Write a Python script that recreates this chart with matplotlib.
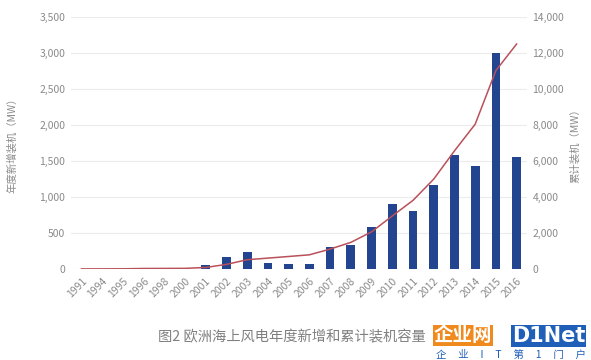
import matplotlib
matplotlib.use('Agg')
import matplotlib.pyplot as plt
import numpy as np

plt.rcParams['font.family'] = ['Noto Sans CJK SC', 'DejaVu Sans']

years = ['1991', '1994', '1995', '1996', '1998', '2000', '2001', '2002', '2003',
         '2004', '2005', '2006', '2007', '2008', '2009', '2010', '2011', '2012',
         '2013', '2014', '2015', '2016']
annual = [5, 0, 5, 17, 3, 4, 51, 160, 240, 90, 70, 75, 300, 330, 590, 900,
          800, 1160, 1580, 1430, 3000, 1550]
cumulative = [5, 7, 11, 29, 32, 36, 86, 256, 515, 605, 695, 788, 1106, 1479,
              2063, 2946, 3813, 4995, 6562, 8045, 11027, 12500]

left_ticks = [0, 500, 1000, 1500, 2000, 2500, 3000, 3500]
right_ticks = [0, 2000, 4000, 6000, 8000, 10000, 12000, 14000]

bar_color = '#23448e'
line_color = '#b9505a'
txt_color = '#8a8a8a'

fig = plt.figure(figsize=(5.91, 3.60), dpi=100)
ax = fig.add_axes([71/591, 91/360, (527-71)/591, 252/360])
x = np.arange(len(years))

ax.bar(x, annual, width=0.42, color=bar_color, zorder=2)
ax.set_ylim(0, 3500)
ax.set_xlim(-0.5, len(years) - 0.5)
ax.set_yticks(left_ticks)
ax.set_yticklabels([f'{v:,}' for v in left_ticks])
ax.grid(axis='y', color='#ececec', linewidth=0.8, zorder=0)
ax.set_xticks(x)
ax.set_xticklabels(years, rotation=45, ha='right', va='top', rotation_mode='anchor')
ax.tick_params(axis='both', length=0, colors=txt_color, labelsize=7.5)
ax.tick_params(axis='x', pad=5)
ax.tick_params(axis='y', pad=4)
for s in ax.spines.values():
    s.set_visible(False)
ax.set_ylabel('年度新增装机（MW）', color=txt_color, fontsize=7.5, labelpad=16)

ax2 = ax.twinx()
ax2.plot(x, cumulative, color=line_color, linewidth=1.1, zorder=3)
ax2.set_ylim(0, 14000)
ax2.set_yticks(right_ticks)
ax2.set_yticklabels([f'{v:,}' for v in right_ticks])
ax2.tick_params(axis='y', length=0, colors=txt_color, labelsize=7.5, pad=4)
for s in ax2.spines.values():
    s.set_visible(False)
ax2.set_ylabel('累计装机（MW）', color=txt_color, fontsize=7.5, labelpad=4)

fig.text(158/591, 0.063, '图2 欧洲海上风电年度新增和累计装机容量', color='#808080',
         fontsize=10.3, ha='left', va='center')

# watermark
fig.text(434/591, 0.067, '企业网', color='white', fontsize=14, fontweight='bold',
         ha='left', va='center',
         bbox=dict(boxstyle='square,pad=0.05', fc='#f08a1c', ec='none'))
fig.text(512/591, 0.067, 'D1Net', color='white', fontsize=15, fontweight='bold',
         ha='left', va='center', family=['DejaVu Sans'],
         bbox=dict(boxstyle='square,pad=0.05', fc='#1f5fb8', ec='none'))
fig.text(436/591, 0.015, '企     业     I     T     第     1     门     户',
         color='#1f5fb8', fontsize=7.5, ha='left', va='center')

fig.savefig('out.png', dpi=100, facecolor='white')
